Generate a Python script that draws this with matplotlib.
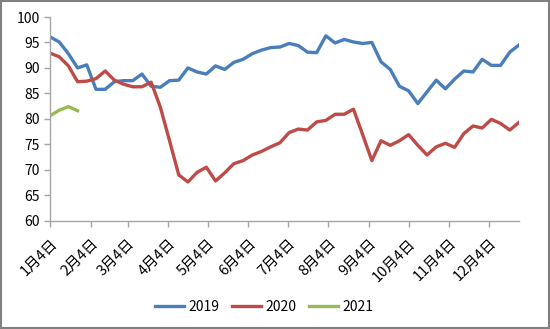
import numpy as np
import matplotlib
matplotlib.use('Agg')
import matplotlib.pyplot as plt
from matplotlib.patches import Rectangle

plt.rcParams['font.family'] = ['Noto Sans CJK SC', 'DejaVu Sans']

# weekly readings, first week starting 1月4日
v2019 = [96.1, 95.1, 92.8, 90.0, 90.6, 85.8, 85.8, 87.3, 87.5, 87.5,
         88.8, 86.4, 86.2, 87.5, 87.6, 90.0, 89.2, 88.8, 90.4, 89.7,
         91.1, 91.7, 92.8, 93.5, 94.0, 94.1, 94.8, 94.4, 93.1, 93.0,
         96.3, 94.9, 95.6, 95.1, 94.8, 95.0, 91.2, 89.7, 86.4, 85.5,
         83.0, 85.3, 87.6, 85.9, 87.8, 89.4, 89.2, 91.7, 90.5, 90.5,
         93.1, 94.5]
v2020 = [92.9, 92.2, 90.4, 87.3, 87.4, 87.9, 89.4, 87.6, 86.8, 86.3,
         86.3, 87.2, 82.3, 75.7, 69.0, 67.6, 69.5, 70.5, 67.8, 69.4,
         71.2, 71.8, 72.9, 73.6, 74.5, 75.3, 77.3, 78.0, 77.8, 79.4,
         79.7, 80.9, 80.9, 81.9, 76.9, 71.8, 75.7, 74.8, 75.7, 76.9,
         74.8, 72.9, 74.5, 75.2, 74.4, 77.1, 78.6, 78.2, 79.9, 79.1,
         77.8, 79.3]
v2021 = [80.6, 81.7, 82.4, 81.6]

tick_days = [0, 31, 59, 90, 120, 151, 181, 212, 243, 273, 304, 334]
tick_labels = ['1月4日', '2月4日', '3月4日', '4月4日', '5月4日', '6月4日',
               '7月4日', '8月4日', '9月4日', '10月4日', '11月4日', '12月4日']

days19 = np.arange(len(v2019)) * 7
days20 = np.arange(len(v2020)) * 7
days21 = np.arange(len(v2021)) * 7

fig = plt.figure(figsize=(5.5, 3.29), dpi=100)
ax = fig.add_axes([0.0909, 0.3292, 0.8527, 0.6191])

ax.plot(days19, v2019, color='#4A7EBB', lw=2.4, label='2019')
ax.plot(days20, v2020, color='#BE4B48', lw=2.4, label='2020')
ax.plot(days21, v2021, color='#98B954', lw=2.4, label='2021')

ax.set_xlim(0, days19[-1])
ax.set_ylim(60, 100)
ax.set_yticks(range(60, 101, 5))
ax.set_xticks(tick_days)
ax.set_xticklabels(tick_labels, rotation=45, ha='right', rotation_mode='anchor')

for s in ['top', 'right']:
    ax.spines[s].set_visible(False)
for s in ['left', 'bottom']:
    ax.spines[s].set_color('#a6a6a6')
    ax.spines[s].set_linewidth(1)
ax.tick_params(axis='both', colors='#a6a6a6', labelcolor='black', labelsize=10,
               length=4, width=1, direction='out')
ax.tick_params(axis='x', pad=7, labelsize=10.5)

fig.legend(loc='center', bbox_to_anchor=(0.48, 0.067), ncol=3, frameon=False,
           fontsize=10, handlelength=2.1, columnspacing=0.9, handletextpad=0.3)

# thin outer border
fig.patches.append(Rectangle((0.002, 0.003), 0.996, 0.994, transform=fig.transFigure,
                             fill=False, edgecolor='#808080', lw=1.5))

fig.savefig('out.png', dpi=100)
